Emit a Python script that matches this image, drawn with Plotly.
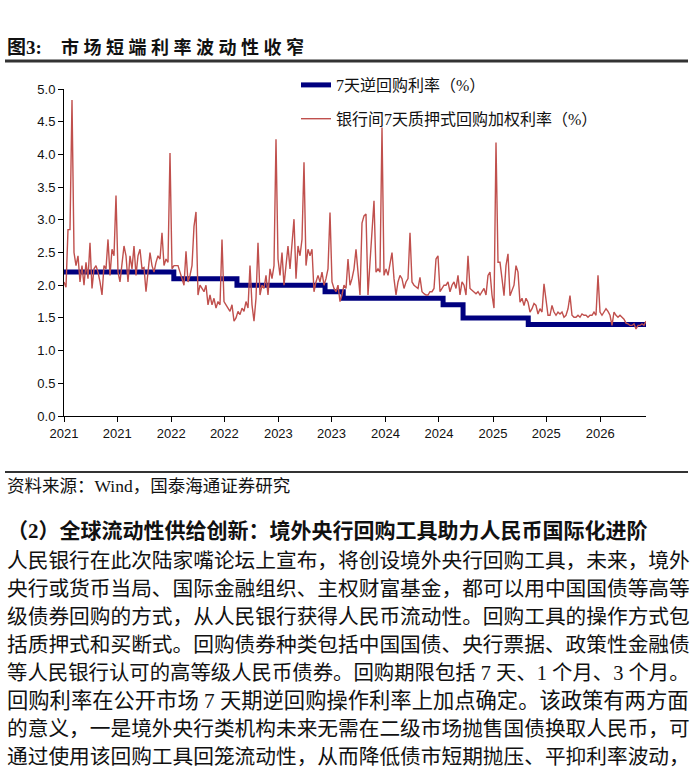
import plotly.graph_objects as go
import pandas as pd

# ---------------- data ----------------
repo_dates = ["2021-01-01", "2022-01-10", "2022-08-13", "2023-06-09", "2023-08-10",
              "2024-07-15", "2024-09-21", "2025-05-01", "2026-06-06"]
repo_vals = [2.2, 2.1, 2.0, 1.9, 1.8, 1.7, 1.5, 1.4, 1.4]

r007_start = "2021-01-01"
r007_end = "2026-06-06"
r007_seg1 = [2.05, 1.97, 2.85, 2.85, 4.83, 2.5, 2.3, 2.45, 2.05, 2.3,
             2.0, 2.35, 2.1, 2.65, 1.95, 2.25, 2.3, 2.2, 2.05, 1.85,
             2.3, 2.25, 2.7, 2.15, 2.55, 2.45, 3.37, 2.2, 2.05, 2.3,
             2.6, 2.45, 2.05, 2.45, 2.25, 2.6, 2.15, 2.45, 2.55, 2.25,
             2.27, 1.9, 2.25, 2.5, 2.3, 2.2, 2.35, 2.45, 2.4, 2.8,
             2.3, 2.4, 2.35, 4.02, 2.25, 2.3, 2.3, 2.3, 2.2, 2.1,
             2.0, 2.52, 2.05, 2.15, 2.3, 2.9, 3.12, 1.85, 2.0, 1.95,
             1.9, 2.0, 1.7]
r007_seg2 = [1.85, 1.7, 1.8, 1.65, 1.75, 1.7, 2.7, 1.75, 1.7, 1.65,
             1.6, 1.7, 1.45, 1.5, 1.6, 1.55, 1.65, 1.6, 1.75, 1.65,
             2.3, 1.7, 1.45, 1.8, 2.65, 1.85, 2.0, 1.95, 2.15, 1.85,
             2.25, 2.1, 2.3, 4.23, 2.4, 2.15, 2.5, 2.0, 2.3, 2.6,
             2.25, 2.7, 3.01, 2.1, 2.6, 2.45, 2.7, 3.88, 2.3, 2.55,
             2.45, 2.55, 1.9, 2.05, 2.15, 2.05, 2.2, 2.0, 2.1, 2.25,
             3.11, 2.05, 1.95, 1.9, 2.0, 1.75, 1.85, 2.0, 1.95, 2.4,
             2.0, 2.1, 2.25]
r007_seg3 = [2.55, 2.2, 1.85, 2.95, 3.06, 3.09, 1.85, 2.35, 2.9, 3.29,
             2.2, 2.25, 2.2, 4.41, 2.15, 2.25, 2.15, 2.35, 2.5, 2.1,
             1.85, 2.05, 2.15, 2.1, 1.95, 2.05, 2.1, 2.8, 2.05, 2.0,
             1.97, 1.95, 2.12, 1.9, 1.87, 1.85, 1.85, 1.9, 1.9, 1.95,
             2.4, 2.45, 1.9, 1.95, 2.0, 2.0, 2.05, 1.9, 2.0, 2.05,
             1.95, 2.15, 1.85, 2.05, 2.0, 1.85, 2.45, 1.95, 1.92, 1.9,
             1.87, 1.9, 1.85, 1.9, 1.95, 1.85, 2.15, 2.2, 1.85, 1.65,
             4.18, 2.35]
r007_seg4 = [2.35, 2.1, 1.84, 2.3, 2.48, 1.84, 1.92, 2.0, 2.3, 2.2,
             1.74, 1.8, 1.69, 1.8, 1.74, 1.59, 1.64, 1.72, 1.69, 1.56,
             1.64, 1.59, 2.02, 1.74, 1.54, 1.54, 1.69, 1.59, 1.54, 1.59,
             1.56, 1.59, 1.51, 1.54, 1.64, 1.84, 1.54, 1.51, 1.51, 1.54,
             1.51, 1.56, 1.54, 1.54, 1.51, 1.54, 1.54, 1.59, 1.54, 2.15,
             1.59, 1.54, 1.6, 1.64, 1.6, 1.54, 1.385, 1.59, 1.54, 1.51,
             1.54, 1.51, 1.48, 1.42, 1.41, 1.385, 1.385, 1.41, 1.33, 1.385,
             1.385, 1.41, 1.385, 1.45]
r007_vals = r007_seg1 + r007_seg2 + r007_seg3 + r007_seg4
r007_dates = pd.date_range(r007_start, r007_end, periods=len(r007_vals))

y_ticks = [0.0, 0.5, 1.0, 1.5, 2.0, 2.5, 3.0, 3.5, 4.0, 4.5, 5.0]

name_repo = "7天逆回购利率（%）"
name_r007 = "银行间7天质押式回购加权利率（%）"

title_fig = "<b>图3:</b>"
title_text = "<b>市 场 短 端 利 率 波 动 性 收 窄</b>"
source_text = "资料来源：Wind，国泰海通证券研究"
heading_text = "<b>（2）全球流动性供给创新：境外央行回购工具助力人民币国际化进阶</b>"
body_lines = [
    "人民银行在此次陆家嘴论坛上宣布，将创设境外央行回购工具，未来，境外",
    "央行或货币当局、国际金融组织、主权财富基金，都可以用中国国债等高等",
    "级债券回购的方式，从人民银行获得人民币流动性。回购工具的操作方式包",
    "括质押式和买断式。回购债券种类包括中国国债、央行票据、政策性金融债",
    "等人民银行认可的高等级人民币债券。回购期限包括 7 天、1 个月、3 个月。",
    "回购利率在公开市场 7 天期逆回购操作利率上加点确定。该政策有两方面",
    "的意义，一是境外央行类机构未来无需在二级市场抛售国债换取人民币，可",
    "通过使用该回购工具回笼流动性，从而降低债市短期抛压、平抑利率波动，",
]

# ---------------- layout helpers ----------------
W, H = 692, 770
ML, MR, MT, MB = 64, 46, 89, 354
PW, PH = W - ML - MR, H - MT - MB


def px(x):
    return (x - ML) / PW


def py(y):
    return (H - MB - y) / PH


def em_width(s):
    w = 0.0
    for c in s:
        if ord(c) > 0x2E80:
            w += 1.0
        elif c == " ":
            w += 0.25
        else:
            w += 0.5
    return w


SERIF = "Liberation Serif, 'Noto Sans CJK SC', serif"

fig = go.Figure()
fig.add_trace(go.Scatter(
    x=repo_dates, y=repo_vals, mode="lines", name=name_repo,
    line=dict(color="#00007f", width=5, shape="hv"), legendgroup="a"))
fig.add_trace(go.Scatter(
    x=r007_dates, y=r007_vals, mode="lines", name=name_r007,
    line=dict(color="#c0504d", width=1.4), legendgroup="b"))

annotations = [
    dict(text=title_fig, x=px(5), y=py(47), font=dict(size=19, family=SERIF, color="#111")),
    dict(text=title_text, x=px(59), y=py(47), font=dict(size=18, family=SERIF, color="#111")),
    dict(text=source_text, x=px(5), y=py(486), font=dict(size=17.5, family=SERIF, color="#111")),
    dict(text=heading_text, x=px(5), y=py(531), font=dict(size=21, family=SERIF, color="#111")),
]
for i, line in enumerate(body_lines):
    size = min(21.3, 683.0 / em_width(line))
    annotations.append(dict(text=line, x=px(5), y=py(561 + 28 * i),
                            font=dict(size=size, family=SERIF, color="#111")))
for a in annotations:
    a.update(xref="paper", yref="paper", xanchor="left", yanchor="middle", showarrow=False)

shapes = [
    dict(type="line", xref="paper", yref="paper", x0=px(5), x1=px(688), y0=py(61), y1=py(61),
         line=dict(color="#333", width=3)),
    dict(type="line", xref="paper", yref="paper", x0=px(5), x1=px(688), y0=py(472), y1=py(472),
         line=dict(color="#333", width=2)),
]

fig.update_layout(
    width=W, height=H, margin=dict(l=ML, r=MR, t=MT, b=MB, pad=0),
    paper_bgcolor="white", plot_bgcolor="white",
    annotations=annotations, shapes=shapes,
    legend=dict(x=px(296), y=py(68), xanchor="left", yanchor="top",
                bgcolor="rgba(0,0,0,0)", font=dict(size=16, family=SERIF, color="#111"),
                tracegroupgap=10, traceorder="grouped"),
    xaxis=dict(type="date", range=[r007_start, r007_end], tick0="2021-01-01", dtick="M6",
               tickformat="%Y", showgrid=False, zeroline=False, showline=True,
               linecolor="black", linewidth=1, ticks="outside", ticklen=5, tickcolor="black",
               tickfont=dict(size=13, family="Liberation Sans, Arial", color="#111")),
    yaxis=dict(range=[0, 5], tickvals=y_ticks, tickformat=".1f", showgrid=False,
               zeroline=False, showline=True, linecolor="black", linewidth=1,
               ticks="outside", ticklen=5, tickcolor="black",
               tickfont=dict(size=13, family="Liberation Sans, Arial", color="#111")),
)

fig.write_html("out.html")
